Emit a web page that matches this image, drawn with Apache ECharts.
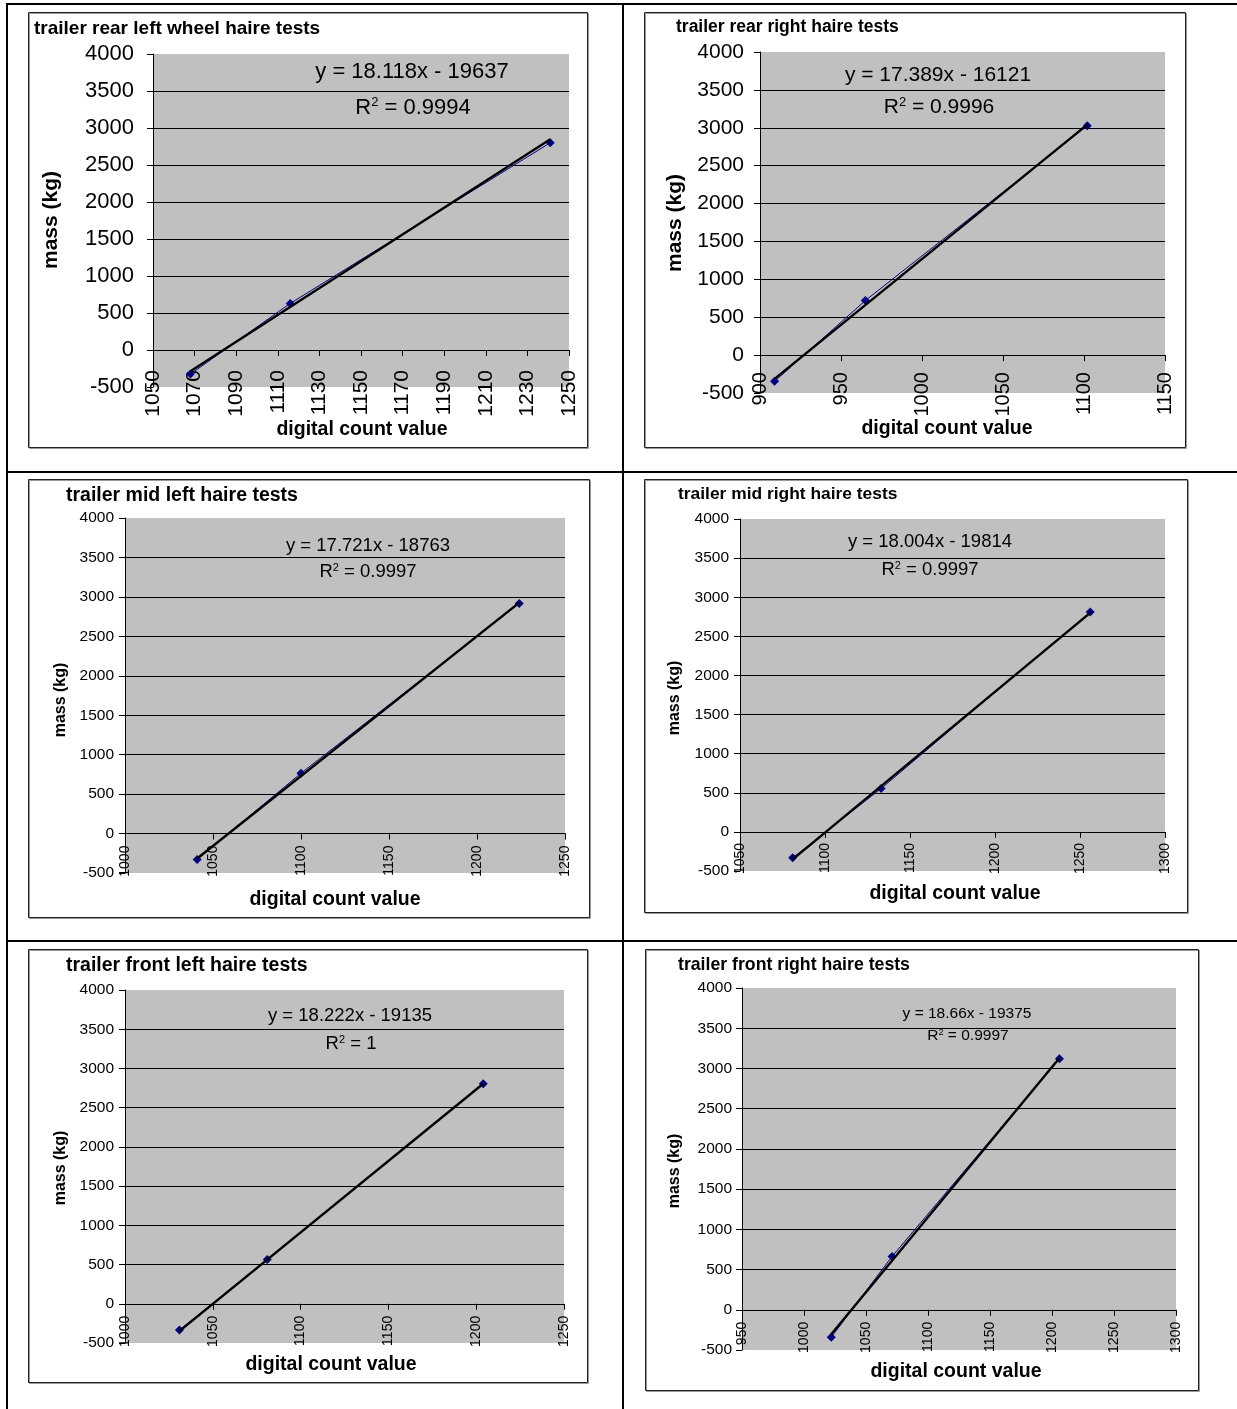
<!DOCTYPE html>
<html>
<head>
<meta charset="utf-8">
<script src="https://cdn.jsdelivr.net/npm/echarts@6/dist/echarts.min.js"></script>
<style>
  html, body { margin: 0; padding: 0; background: #fff; }
  #main { width: 1237px; height: 1409px; }
</style>
</head>
<body>
<div id="main"></div>
<script>
// chart data
var titles = ['trailer rear left wheel haire tests', 'trailer rear right haire tests',
  'trailer mid left haire tests', 'trailer mid right haire tests',
  'trailer front left haire tests', 'trailer front right haire tests'];
var xMins = [1050, 900, 1000, 1050, 1000, 950];
var xMaxs = [1250, 1150, 1250, 1300, 1250, 1300];
var xSteps = [20, 50, 50, 50, 50, 50];
var countValues = [
  [1068, 1116, 1241],
  [909, 965, 1102],
  [1041, 1100, 1224],
  [1081, 1133, 1256],
  [1031, 1081, 1204],
  [1022, 1071, 1206]
];
var massValues = [
  [-325, 630, 2800],
  [-346, 720, 3026],
  [-330, 765, 2915],
  [-332, 555, 2812],
  [-333, 564, 2806],
  [-341, 663, 3120]
];
var slopes = [18.118, 17.389, 17.721, 18.004, 18.222, 18.66];
var intercepts = [-19637, -16121, -18763, -19814, -19135, -19375];
var r2Text = ['0.9994', '0.9996', '0.9997', '0.9997', '1', '0.9997'];
var yMin = -500, yMax = 4000, yStep = 500;

// layout of each panel (pixels)
var boxes = [[28,12,559,435],[644,12,541,435],[28,479,561,438],[644,479,543,433],[28,949,559,433],[645,949,553,441]];
var grids = [[153,54,416,333],[760,52,405,341],[125,518,440,355],[740,519,425,352],[125,990,439,353],[742,988,434,362]];
var yTickFont = [22, 21, 15.5, 15.5, 15.5, 15.5];
var xTickFont = [21, 20, 14, 14, 14, 14];
var yLabelGap = [19, 16, 11, 11, 11, 10];
var xLabelGap = [20, 17, 12, 11, 12, 12];
var titleFont = [19, 17.5, 19.5, 17.4, 19.5, 17.7];
var titlePos = [[34,29],[676,27],[66,496],[678,494],[66,966],[678,965]];
var yNamePos = [[51,220],[675,223],[61,700],[675,698],[61,1168],[675,1171]];
var yNameFont = [21, 21, 16, 16, 16, 16];
var xNamePos = [[362,430],[947,429],[335,900],[955,894],[331,1365],[956,1372]];
var xNameFont = [19.5, 19.5, 19.5, 19.5, 19.5, 19.5];
var eqPos = [[412,72],[938,75],[368,546],[930,542],[350,1016],[967,1014]];
var r2Pos = [[413,107],[939,107],[368,572],[930,570],[351,1044],[968,1036]];
var eqFont = [22, 21, 18.5, 18.5, 18.5, 15.5];

var FONT = '"Liberation Sans", Arial, sans-serif';

function plain(v) { return String(v); }

var grid = [], xAxis = [], yAxis = [], series = [];
var graphic = [
  // table rules
  {type:'line', shape:{x1:6, y1:4, x2:1237, y2:4}, style:{stroke:'#000', lineWidth:2}},
  {type:'line', shape:{x1:7, y1:3, x2:7, y2:1409}, style:{stroke:'#000', lineWidth:2}},
  {type:'line', shape:{x1:623, y1:3, x2:623, y2:1409}, style:{stroke:'#000', lineWidth:2}},
  {type:'line', shape:{x1:6, y1:472, x2:1237, y2:472}, style:{stroke:'#000', lineWidth:2}},
  {type:'line', shape:{x1:6, y1:941, x2:1237, y2:941}, style:{stroke:'#000', lineWidth:2}}
];

for (var i = 0; i < 6; i++) {
  var b = boxes[i], g = grids[i];
  // x axis crosses the value axis at mass 0
  var zeroOffset = -g[3] * (0 - yMin) / (yMax - yMin);
  grid.push({left: g[0], top: g[1], width: g[2], height: g[3], show: true,
    backgroundColor: '#C0C0C0', borderWidth: 0, containLabel: false});
  xAxis.push({type: 'value', gridIndex: i, min: xMins[i], max: xMaxs[i], interval: xSteps[i],
    position: 'bottom', offset: zeroOffset,
    axisLine: {show: true, onZero: false, lineStyle: {color: '#000', width: 1}},
    axisTick: {show: true, length: 6, lineStyle: {color: '#000'}},
    axisLabel: {rotate: 90, fontSize: xTickFont[i], color: '#000', fontFamily: FONT, margin: xLabelGap[i],
      formatter: plain, showMinLabel: true, showMaxLabel: true, hideOverlap: false},
    splitLine: {show: false}});
  yAxis.push({type: 'value', gridIndex: i, min: yMin, max: yMax, interval: yStep,
    axisLine: {show: true, onZero: false, lineStyle: {color: '#000', width: 1}},
    axisTick: {show: true, length: 6, lineStyle: {color: '#000'}},
    axisLabel: {fontSize: yTickFont[i], color: '#000', fontFamily: FONT, margin: yLabelGap[i], formatter: plain},
    splitLine: {show: true, showMinLine: false, showMaxLine: false, lineStyle: {color: '#000', width: 1}}});

  var pts = countValues[i].map(function (x, k) { return [x, massValues[i][k]]; });
  series.push({type: 'line', xAxisIndex: i, yAxisIndex: i, data: pts,
    symbol: 'diamond', symbolSize: 9, showAllSymbol: true,
    lineStyle: {color: '#000080', width: 1}, itemStyle: {color: '#000080'}, z: 2});
  // linear trend line (from the fitted equation shown on the chart)
  var x0 = countValues[i][0], x1 = countValues[i][countValues[i].length - 1];
  series.push({type: 'line', xAxisIndex: i, yAxisIndex: i,
    data: [[x0, slopes[i] * x0 + intercepts[i]], [x1, slopes[i] * x1 + intercepts[i]]],
    symbol: 'none', lineStyle: {color: '#000', width: 2.4}, z: 3});

  // panel frame with light shadow
  graphic.push({type:'rect', shape:{x: b[0] + 1.5, y: b[1] + 1.5, width: b[2], height: b[3]},
    style:{fill: null, stroke: '#999', lineWidth: 1}, z: 1});
  graphic.push({type:'rect', shape:{x: b[0] + 0.5, y: b[1] + 0.5, width: b[2], height: b[3]},
    style:{fill: null, stroke: '#222', lineWidth: 1}, z: 1});
  // panel title
  graphic.push({type:'text', x: titlePos[i][0], y: titlePos[i][1], z: 5,
    style:{text: titles[i], font: 'bold ' + titleFont[i] + 'px ' + FONT, fill: '#000',
      textAlign: 'left', textVerticalAlign: 'middle'}});
  // axis titles
  graphic.push({type:'text', x: yNamePos[i][0], y: yNamePos[i][1], rotation: Math.PI / 2, z: 5,
    style:{text: 'mass (kg)', font: 'bold ' + yNameFont[i] + 'px ' + FONT, fill: '#000',
      textAlign: 'center', textVerticalAlign: 'middle'}});
  graphic.push({type:'text', x: xNamePos[i][0], y: xNamePos[i][1], z: 5,
    style:{text: 'digital count value', font: 'bold ' + xNameFont[i] + 'px ' + FONT, fill: '#000',
      textAlign: 'center', textVerticalAlign: 'middle'}});
  // trend equation and R²
  var sign = intercepts[i] < 0 ? ' - ' : ' + ';
  graphic.push({type:'text', x: eqPos[i][0], y: eqPos[i][1], z: 5,
    style:{text: 'y = ' + slopes[i] + 'x' + sign + Math.abs(intercepts[i]),
      font: eqFont[i] + 'px ' + FONT, fill: '#000', textAlign: 'center', textVerticalAlign: 'middle'}});
  graphic.push({type:'text', x: r2Pos[i][0], y: r2Pos[i][1], z: 5,
    style:{text: '{n|R}{s|2}{n| = ' + r2Text[i] + '}',
      rich: {
        n: {fontSize: eqFont[i], fontFamily: FONT, fill: '#000', color: '#000', verticalAlign: 'bottom'},
        s: {fontSize: Math.round(eqFont[i] * 0.6), fontFamily: FONT, fill: '#000', color: '#000',
          verticalAlign: 'top', padding: [0, 0, Math.round(eqFont[i] * 0.45), 0]}
      },
      textAlign: 'center', textVerticalAlign: 'middle'}});
}

var option = {
  animation: false,
  backgroundColor: '#fff',
  grid: grid,
  xAxis: xAxis,
  yAxis: yAxis,
  series: series,
  graphic: graphic
};

var myChart = echarts.init(document.getElementById('main'), null, {renderer: 'canvas'});
myChart.setOption(option);
</script>
</body>
</html>
